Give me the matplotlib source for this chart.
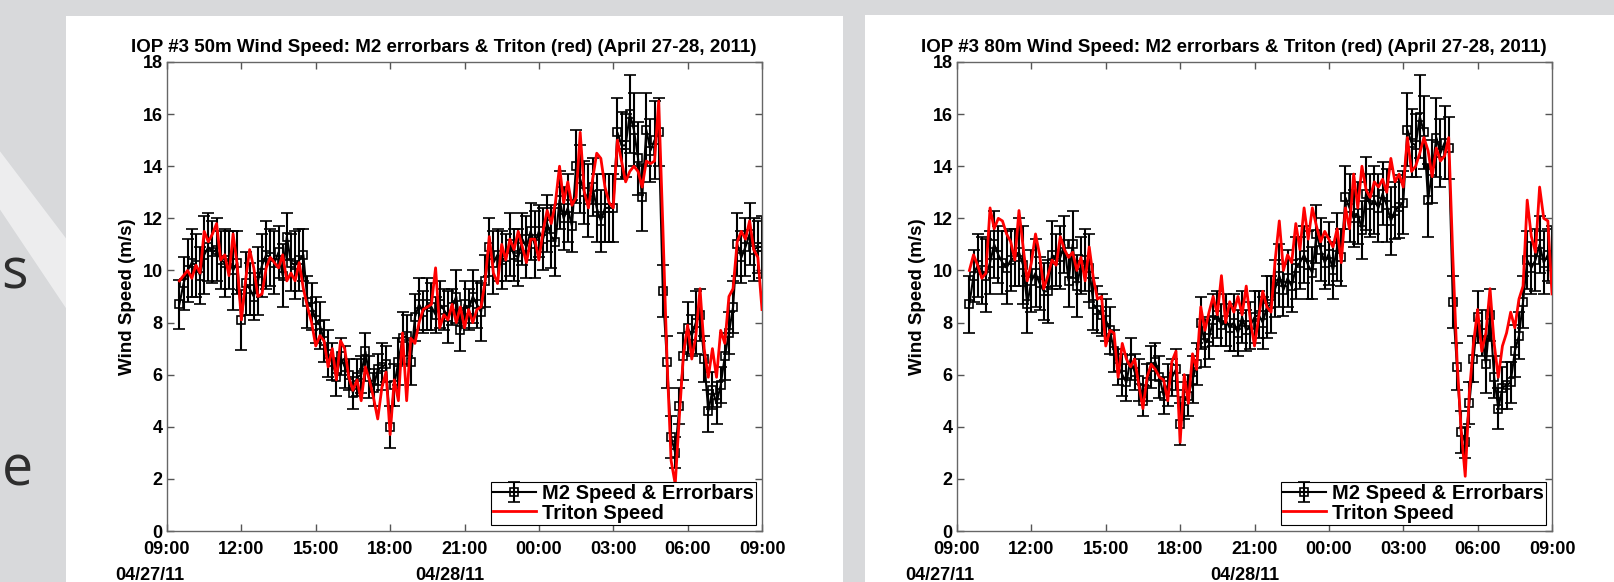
# IOP #3 wind speed comparison, M2 tower vs Triton, 50 m and 80 m.
import pandas as pd
import matplotlib
matplotlib.use("Agg")
import matplotlib.pyplot as plt
import matplotlib.dates as mdates
from matplotlib.patches import Rectangle, Polygon

plt.rcParams['font.family'] = ['Liberation Sans', 'DejaVu Sans']
plt.rcParams['font.weight'] = 'bold'

# 10-minute samples, 04/27 09:30 .. 04/28 09:00
times = pd.date_range("2011-04-27 09:30", "2011-04-28 09:00", freq="10min")
x_start = pd.Timestamp("2011-04-27 09:00")
x_end = pd.Timestamp("2011-04-28 09:00")

m2_50 = [8.7, 9.5, 10.0,
         10.3, 10.2, 9.8, 10.6, 10.9, 10.7,
         10.8, 10.4, 10.3, 10.4, 10.0, 10.3,
         8.1, 9.5, 9.3, 9.0, 9.6, 10.2,
         10.6, 10.5, 10.3, 10.7, 9.8, 11.3,
         10.3, 10.2, 10.4, 10.6, 8.8, 8.6,
         8.1, 7.9, 7.3, 6.8, 6.5, 5.9,
         6.7, 6.3, 6.0, 5.3, 5.9, 6.0,
         6.9, 5.9, 5.5, 6.2, 6.3, 6.4,
         4.0, 5.6, 6.5, 7.4, 7.5, 6.5,
         8.2, 8.7, 8.4, 8.7, 8.6, 8.3,
         8.7, 8.5, 8.2, 8.6, 9.0, 7.7,
         8.7, 8.5, 9.0, 8.7, 8.4, 9.6,
         10.9, 10.3, 10.6, 10.4, 10.5, 11.0,
         10.6, 10.5, 11.2, 10.9, 11.5, 11.0,
         11.5, 11.2, 11.8, 11.3, 11.1, 12.7,
         12.0, 12.4, 11.7, 14.0, 13.5, 13.0,
         12.7, 13.2, 12.4, 11.9, 12.4, 12.4,
         12.4, 15.3, 14.8, 14.8, 16.0, 15.4,
         14.3, 12.8, 15.4, 14.6, 15.0, 15.3,
         9.2, 6.5, 3.6, 3.0, 4.8, 6.7,
         7.8, 7.5, 8.0, 8.3, 6.6, 4.6,
         5.4, 4.9, 5.6, 6.7, 7.6, 8.6,
         11.0, 10.5, 10.9, 11.4, 10.8, 10.9,
         10.9]

err_50 = [0.95, 1.0, 1.2,
          1.3, 1.2, 1.1, 1.5, 1.3, 1.2,
          1.2, 1.1, 1.3, 1.1, 1.5, 1.2,
          1.15, 1.2, 1.0, 0.9, 1.3, 1.2,
          1.3, 1.1, 1.2, 1.0, 1.2, 0.9,
          1.1, 1.3, 1.2, 1.0, 1.0, 0.9,
          0.9, 0.9, 0.8, 0.9, 0.7, 0.7,
          0.7, 0.8, 0.6, 0.6, 0.7, 0.7,
          0.7, 0.8, 0.7, 0.6, 0.9, 0.7,
          0.8, 0.8, 0.9, 1.0, 0.8, 0.9,
          0.9, 1.0, 0.8, 1.0, 0.9, 0.7,
          0.9, 0.8, 1.0, 0.7, 1.0, 0.8,
          0.9, 0.8, 1.0, 0.9, 1.1, 1.0,
          1.1, 1.2, 1.0, 1.1, 0.9, 1.2,
          1.0, 1.1, 1.0, 1.2, 1.1, 1.3,
          1.0, 1.2, 1.1, 1.2, 1.3, 1.1,
          1.2, 1.3, 1.0, 1.4, 1.3, 1.2,
          1.4, 1.1, 1.3, 1.2, 1.3, 1.3,
          1.3, 1.3, 1.3, 1.2, 1.5, 1.4,
          1.4, 1.3, 1.4, 1.2, 1.5, 1.3,
          1.0, 1.0, 0.8, 0.6, 0.7, 0.9,
          1.0, 0.8, 1.2, 1.0, 0.9, 0.8,
          0.7, 0.8, 0.7, 0.9, 0.8, 1.0,
          1.2, 1.0, 1.1, 1.2, 1.2, 1.0,
          1.2]

triton_50 = [9.6, 9.8, 10.0,
             9.7, 10.2, 9.9, 11.5, 11.1, 11.4,
             11.8, 10.4, 10.6, 9.8, 11.4, 10.2,
             8.1, 9.6, 10.8, 10.1, 9.0, 9.1,
             10.1, 10.5, 10.3, 10.1, 10.6, 9.6,
             9.9, 9.6, 10.3, 9.3, 8.6, 8.0,
             7.1, 7.5, 7.3, 6.3, 7.0, 5.8,
             7.3, 7.0, 5.9, 5.4, 5.8, 5.0,
             6.3, 5.8, 5.1, 4.3, 5.5, 6.1,
             3.7, 5.8, 5.0, 7.6, 5.0, 7.4,
             7.2, 8.0, 8.5, 8.6, 8.7, 10.1,
             7.8, 8.3, 8.1, 8.7, 8.0, 8.6,
             7.8, 8.5, 8.0, 8.5, 8.6, 9.6,
             11.3, 9.9, 9.5, 11.0, 10.4, 11.2,
             10.8, 11.5, 10.9, 10.3, 11.2, 11.2,
             10.4, 11.5, 12.3, 11.8, 12.6, 14.0,
             12.6, 13.4, 12.5, 12.8, 15.3, 13.0,
             12.4, 13.5, 14.5, 14.3, 13.2, 12.6,
             12.4, 15.0, 14.2, 13.4, 13.8, 14.0,
             13.8, 13.2, 14.2, 14.1, 14.2, 16.5,
             11.7, 6.6, 2.7, 1.8, 4.4, 6.8,
             7.9, 6.6, 7.5, 9.3, 7.0, 5.9,
             7.0, 5.9, 7.7, 7.2, 9.0, 9.3,
             11.1, 11.5, 11.2, 11.9, 10.8, 10.5,
             8.5]

m2_80 = [8.7, 9.8, 10.2,
         10.0, 9.8, 10.3, 11.0, 10.6, 10.3,
         10.1, 10.4, 10.5, 10.7, 10.2, 8.7,
         9.6, 9.9, 9.5, 9.2, 9.2, 10.6,
         10.4, 10.5, 11.0, 9.6, 11.0, 9.4,
         10.2, 10.4, 10.1, 8.7, 8.5, 8.3,
         8.1, 7.7, 6.9, 6.3, 6.0, 5.7,
         6.6, 6.1, 5.8, 5.0, 5.7, 6.3,
         6.5, 5.9, 5.2, 5.6, 5.9, 6.2,
         4.1, 5.0, 5.2, 5.8, 6.4, 8.0,
         7.2, 7.4, 8.1, 8.3, 7.9, 8.1,
         7.8, 8.0, 7.6, 8.2, 7.7, 7.9,
         8.2, 8.3, 8.0, 8.6, 8.7, 9.3,
         9.8, 9.25, 9.7, 9.4, 10.1, 10.3,
         10.6, 10.2, 9.9, 11.4, 10.8, 10.3,
         10.65, 10.0, 10.9, 10.5, 12.8, 12.4,
         12.0, 12.2, 11.55, 12.95, 12.5, 12.7,
         12.4, 12.95, 12.5, 11.9, 12.3, 12.45,
         12.6, 15.4, 14.9, 14.8, 15.9, 15.3,
         12.7, 13.8, 15.1, 14.5, 14.9, 14.7,
         8.8, 6.3, 3.8, 3.4, 4.9, 6.6,
         8.2, 7.6, 6.4, 8.3, 5.9, 4.7,
         5.5, 5.6, 5.7, 6.9, 7.5, 8.8,
         10.4, 10.1, 10.4, 11.0, 10.3, 10.6,
         10.6]

err_80 = [1.1, 1.0, 1.2,
          1.3, 1.4, 1.2, 1.3, 1.1, 1.2,
          1.4, 1.2, 1.1, 1.3, 1.5, 1.1,
          1.2, 1.3, 1.0, 1.1, 1.2, 1.3,
          1.0, 1.2, 1.1, 1.0, 1.3, 1.2,
          1.1, 1.2, 1.3, 1.0, 0.9, 0.8,
          0.8, 0.9, 0.8, 0.7, 0.8, 0.7,
          0.8, 0.7, 0.8, 0.6, 0.7, 0.8,
          0.7, 0.8, 0.7, 0.8, 0.7, 0.8,
          0.8, 0.7, 0.8, 0.9, 0.8, 1.0,
          0.9, 0.8, 1.0, 0.9, 0.8, 1.0,
          0.9, 1.1, 0.9, 1.0, 0.8, 0.9,
          1.0, 0.9, 1.0, 1.2, 1.1, 1.1,
          1.2, 1.0, 1.1, 1.0, 1.2, 1.0,
          1.1, 1.3, 1.0, 1.1, 1.2, 1.0,
          1.2, 1.1, 1.3, 1.1, 1.2, 1.3,
          1.1, 1.2, 1.1, 1.4, 1.2, 1.3,
          1.3, 1.2, 1.4, 1.3, 1.1, 1.2,
          1.2, 1.4, 1.3, 1.2, 1.6, 1.4,
          1.4, 1.2, 1.5, 1.3, 1.4, 1.2,
          1.0, 0.9, 0.8, 0.6, 0.8, 0.9,
          1.0, 0.9, 1.1, 1.0, 0.8, 0.8,
          0.8, 0.9, 0.8, 1.0, 0.9, 1.0,
          1.1, 1.0, 1.2, 1.1, 1.2, 1.0,
          1.1]

triton_80 = [10.0, 10.6, 10.2,
             9.7, 9.9, 12.4, 11.6, 12.0, 11.9,
             11.4, 11.1, 10.4, 12.3, 10.9, 9.6,
             10.3, 11.4, 10.6, 9.3, 9.8, 10.4,
             10.2, 11.3, 10.8, 10.5, 10.7, 10.0,
             10.5, 9.6, 10.9, 9.7, 8.9, 9.0,
             7.1, 7.7, 7.6, 5.9, 7.2, 6.6,
             6.3, 6.6, 5.6, 4.7, 5.9, 6.4,
             6.2, 5.9, 5.8, 5.0, 6.5, 6.9,
             3.4, 6.0, 4.9, 6.8, 6.2, 8.6,
             7.7, 8.4, 9.0, 8.3, 9.8, 8.0,
             8.8, 8.4, 9.0, 8.3, 9.4, 8.1,
             7.1, 8.2, 9.2, 8.6, 8.4, 10.4,
             11.9, 10.0, 10.6, 10.3, 11.8, 10.8,
             12.4, 11.2, 12.4, 11.7, 11.1, 11.5,
             11.2, 10.9, 11.6, 10.3, 12.4, 11.6,
             13.7, 12.4, 14.0, 13.1, 12.8, 13.4,
             13.2, 13.5, 13.0, 14.3, 13.4, 13.7,
             13.2, 15.1, 13.8, 14.0, 14.5, 15.1,
             14.6, 13.6, 14.7, 14.2, 14.4, 15.1,
             10.5, 6.6, 3.9, 2.1, 5.3, 7.2,
             8.5, 6.9, 7.6, 9.3, 7.2, 5.9,
             7.1, 7.6, 8.4, 7.8, 8.9, 9.4,
             12.7, 11.3, 10.7, 13.2, 12.0, 11.9,
             9.1]

titles = ["IOP #3 50m Wind Speed: M2 errorbars & Triton (red) (April 27-28, 2011)",
          "IOP #3 80m Wind Speed: M2 errorbars & Triton (red) (April 27-28, 2011)"]

fig = plt.figure(figsize=(16.15, 5.82), dpi=100)
fig.patch.set_facecolor('#d8d9db')

# slide background: light streak, leftover slide text, white panels
fig.patches.append(Polygon([(0, 0.74), (0, 0.64), (0.041, 0.47), (0.041, 0.59)],
                           closed=True, transform=fig.transFigure, zorder=-10,
                           facecolor='white', alpha=0.55, edgecolor='none'))
fig.text(0.001, 0.53, "s", fontsize=40, color='#2e2e2e', fontweight='normal',
         family=['Open Sans', 'DejaVu Sans'], va='center', ha='left', zorder=-5)
fig.text(0.001, 0.19, "e", fontsize=40, color='#2e2e2e', fontweight='normal',
         family=['Open Sans', 'DejaVu Sans'], va='center', ha='left', zorder=-5)
fig.patches.append(Rectangle((66 / 1615, 0), (843 - 66) / 1615, 1 - 16 / 582,
                             transform=fig.transFigure, facecolor='white',
                             edgecolor='none', zorder=-10))
fig.patches.append(Rectangle((865 / 1615, 0), (1615 - 865) / 1615, 1 - 15 / 582,
                             transform=fig.transFigure, facecolor='white',
                             edgecolor='none', zorder=-10))

panels = [(167, m2_50, err_50, triton_50, 0.476),
          (957, m2_80, err_80, triton_80, 0.483)]

for i, (left_px, m2, err, tri, d2) in enumerate(panels):
    ax = fig.add_axes([left_px / 1615, 51 / 582, 595 / 1615, 469 / 582])
    eb = ax.errorbar(times, m2, yerr=err, fmt='s-', color='black', ms=5.5,
                     mfc='none', mew=1.2, lw=1.5, elinewidth=1.5, capsize=4.5,
                     capthick=1.5, label='M2 Speed & Errorbars', zorder=2)
    ln, = ax.plot(times, tri, color='red', lw=2, label='Triton Speed', zorder=3)

    ax.set_xlim(x_start, x_end)
    ax.set_ylim(0, 18)
    ax.set_yticks(range(0, 19, 2))
    ax.xaxis.set_major_locator(mdates.HourLocator(byhour=range(0, 24, 3)))
    ax.xaxis.set_major_formatter(mdates.DateFormatter('%H:%M'))
    ax.tick_params(direction='in', top=True, right=True, length=5, width=1,
                   color='#555555', labelsize=13, pad=3)
    ax.tick_params(axis='x', pad=7)
    for lab in ax.get_xticklabels() + ax.get_yticklabels():
        lab.set_fontweight('bold')
    for sp in ax.spines.values():
        sp.set_color('#666666')
        sp.set_linewidth(1)

    ax.set_ylabel('Wind Speed (m/s)', fontsize=13.5, fontweight='bold', labelpad=5)
    ax.text(0.465, 1.013, titles[i], transform=ax.transAxes, fontsize=13.5,
            fontweight='bold', ha='center', va='bottom')

    ax.text(-0.029, -0.095, "04/27/11", transform=ax.transAxes, fontsize=13,
            fontweight='bold', ha='center', va='center')
    ax.text(d2, -0.095, "04/28/11", transform=ax.transAxes, fontsize=13,
            fontweight='bold', ha='center', va='center')

    leg = ax.legend(handles=[eb, ln], loc='lower right', fancybox=False,
                    framealpha=1, edgecolor='black',
                    prop={'weight': 'bold', 'size': 14.5},
                    handlelength=2.1, handletextpad=0.3, labelspacing=0.02,
                    borderpad=0.12, borderaxespad=0.3)
    leg.get_frame().set_linewidth(0.8)

fig.savefig('out.png', dpi=100, facecolor=fig.get_facecolor())
